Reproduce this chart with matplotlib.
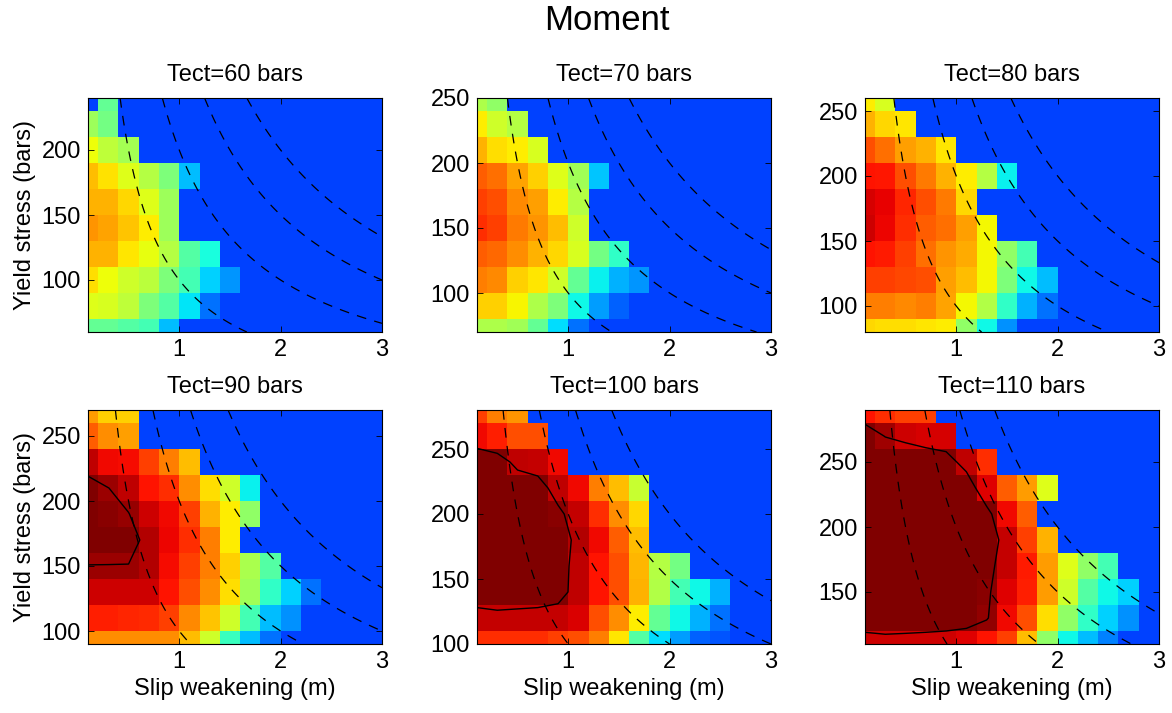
import numpy as np
import matplotlib.pyplot as plt
from matplotlib.ticker import MultipleLocator

plt.rcParams['font.family'] = ['Liberation Sans', 'DejaVu Sans']
plt.rcParams['lines.scale_dashes'] = False
plt.rcParams['lines.dashed_pattern'] = (7, 6)

# slip weakening cell centres (m)
slip = [0.1, 0.3, 0.5, 0.7, 0.9, 1.1, 1.3, 1.5, 1.7, 1.9, 2.1, 2.3, 2.5, 2.7, 2.9]

tect = [60, 70, 80, 90, 100, 110]

# yield stress cell centres (bars), one list per panel
yield_60 = [60, 80, 100, 120, 140, 160, 180, 200, 220, 240]
yield_70 = [70, 90, 110, 130, 150, 170, 190, 210, 230, 250]
yield_80 = [80, 100, 120, 140, 160, 180, 200, 220, 240, 260]
yield_90 = [90, 110, 130, 150, 170, 190, 210, 230, 250, 270]
yield_100 = [100, 120, 140, 160, 180, 200, 220, 240, 260, 280]
yield_110 = [110, 130, 150, 170, 190, 210, 230, 250, 270, 290]

# normalised moment (colour scale 0..1, >1 saturates), rows listed from
# the highest yield stress down; B = runs that did not rupture
B = 0.19
moment_60 = [
    [B, .47, B, B, B, B, B, B, B, B, B, B, B, B, B],
    [.54, .49, B, B, B, B, B, B, B, B, B, B, B, B, B],
    [.64, .58, .55, B, B, B, B, B, B, B, B, B, B, B, B],
    [.71, .67, .62, .57, .50, .31, B, B, B, B, B, B, B, B, B],
    [.72, .72, .68, .62, .54, B, B, B, B, B, B, B, B, B, B],
    [.75, .735, .70, .66, .54, B, B, B, B, B, B, B, B, B, B],
    [.72, .72, .665, .63, .57, .45, .38, B, B, B, B, B, B, B, B],
    [.675, .64, .60, .575, .50, .43, .33, .27, B, B, B, B, B, B, B],
    [.62, .61, .58, .50, .45, .35, .235, B, B, B, B, B, B, B, B],
    [.47, .47, .45, .43, .31, B, B, B, B, B, B, B, B, B, B],
]
moment_70 = [
    [.56, .525, B, B, B, B, B, B, B, B, B, B, B, B, B],
    [.66, .60, .57, B, B, B, B, B, B, B, B, B, B, B, B],
    [.72, .675, .66, .61, B, B, B, B, B, B, B, B, B, B, B],
    [.81, .79, .735, .69, .62, .545, .32, B, B, B, B, B, B, B, B],
    [.84, .825, .765, .74, .66, .57, B, B, B, B, B, B, B, B, B],
    [.86, .84, .78, .75, .71, .60, B, B, B, B, B, B, B, B, B],
    [.81, .80, .76, .72, .68, .61, .49, .41, B, B, B, B, B, B, B],
    [.775, .765, .69, .665, .60, .47, .36, .30, .27, B, B, B, B, B, B],
    [.69, .69, .65, .56, .50, .37, .28, .22, B, B, B, B, B, B, B],
    [.56, .56, .545, .47, .34, .235, B, B, B, B, B, B, B, B, B],
]
moment_80 = [
    [.66, .61, B, B, B, B, B, B, B, B, B, B, B, B, B],
    [.72, .68, .665, B, B, B, B, B, B, B, B, B, B, B, B],
    [.825, .79, .74, .72, .665, B, B, B, B, B, B, B, B, B, B],
    [.89, .885, .825, .78, .72, .66, .57, .36, B, B, B, B, B, B, B],
    [.925, .91, .87, .825, .78, .68, B, B, B, B, B, B, B, B, B],
    [.93, .905, .86, .81, .79, .74, .645, B, B, B, B, B, B, B, B],
    [.89, .88, .84, .79, .75, .73, .645, .525, .43, B, B, B, B, B, B],
    [.84, .84, .835, .825, .74, .71, .645, .50, .37, .31, B, B, B, B, B],
    [.775, .775, .765, .775, .735, .645, .565, .41, .30, .235, B, B, B, B, B],
    [.68, .675, .675, .665, .66, .525, .37, .266, B, B, B, B, B, B, B],
]
moment_90 = [
    [.745, .69, .69, B, B, B, B, B, B, B, B, B, B, B, B],
    [.81, .76, .74, B, B, B, B, B, B, B, B, B, B, B, B],
    [.945, .90, .895, .84, .775, .71, B, B, B, B, B, B, B, B, B],
    [1.0, .976, .945, .89, .86, .76, .675, .60, .36, B, B, B, B, B, B],
    [1.02, .99, .977, .93, .90, .84, .72, .66, .525, B, B, B, B, B, B],
    [1.02, 1.01, 1.0, .955, .905, .86, .775, .66, B, B, B, B, B, B, B],
    [.973, .973, .973, .955, .895, .84, .775, .69, .555, .45, B, B, B, B, B],
    [.93, .93, .93, .93, .89, .825, .76, .675, .545, .41, .33, .235, B, B, B],
    [.875, .875, .87, .865, .84, .765, .70, .60, .43, .31, .266, B, B, B, B],
    [.76, .76, .76, .76, .76, .71, .60, .42, .31, .235, B, B, B, B, B],
]
moment_100 = [
    [.84, .775, .75, B, B, B, B, B, B, B, B, B, B, B, B],
    [.90, .875, .825, .825, B, B, B, B, B, B, B, B, B, B, B],
    [1.058, 1.025, .945, .94, .90, B, B, B, B, B, B, B, B, B, B],
    [1.08, 1.06, 1.042, 1.005, .945, .90, .775, .71, .59, B, B, B, B, B, B],
    [1.1, 1.1, 1.08, 1.04, .99, .94, .86, .76, .68, B, B, B, B, B, B],
    [1.1, 1.1, 1.1, 1.06, 1.012, .955, .90, .81, .71, B, B, B, B, B, B],
    [1.1, 1.1, 1.1, 1.06, 1.01, .945, .89, .825, .715, .57, .49, B, B, B, B],
    [1.0275, 1.057, 1.04, 1.0275, 1.0036, .945, .89, .825, .72, .565, .43, .37, .30, B, B],
    [.94, .94, .94, .94, .94, .92, .825, .76, .66, .47, .37, .30, .235, B, B],
    [.86, .86, .86, .86, .84, .825, .775, .665, .45, .34, .28, .22, .21, B, B],
]
moment_110 = [
    [.89, .86, .84, .84, B, B, B, B, B, B, B, B, B, B, B],
    [1.045, .97, .93, .925, .925, B, B, B, B, B, B, B, B, B, B],
    [1.1, 1.1, 1.103, 1.036, 1.008, .945, .86, B, B, B, B, B, B, B, B],
    [1.1, 1.1, 1.1, 1.1, 1.06, 1.025, .915, .81, .745, .62, B, B, B, B, B],
    [1.1, 1.1, 1.1, 1.1, 1.1, 1.06, 1.0, .90, .81, B, B, B, B, B, B],
    [1.1, 1.1, 1.1, 1.1, 1.1, 1.06, 1.0275, .94, .84, .72, B, B, B, B, B],
    [1.1, 1.1, 1.1, 1.1, 1.1, 1.06, .998, .94, .88, .745, .62, .525, .43, B, B],
    [1.1, 1.1, 1.1, 1.1, 1.1, 1.06, .99, .915, .875, .745, .60, .45, .37, .33, B],
    [1.03, 1.05, 1.04, 1.03, 1.02, 1.015, .982, .90, .825, .675, .525, .41, .33, .266, B],
    [.93, .93, .93, .93, .93, .915, .89, .84, .71, .525, .37, .31, .25, B, B],
]

observed_level = 0.975              # solid contour
energy_levels = [100, 200, 300, 400]  # dashed contours of slip * yield

yields = [yield_60, yield_70, yield_80, yield_90, yield_100, yield_110]
moments = [moment_60, moment_70, moment_80, moment_90, moment_100, moment_110]

fig = plt.figure(figsize=(11.72, 7.13), dpi=100)
fig.text(607 / 1172, 1 - 20 / 713, 'Moment', ha='center', va='center', fontsize=25)

lefts = [88, 477, 865]
bottoms = [332, 644]
W, H = 294, 234

for i in range(6):
    r, c = divmod(i, 3)
    ax = fig.add_axes([lefts[c] / 1172, 1 - bottoms[r] / 713, W / 1172, H / 713])
    yld = yields[i]
    Z = np.array(moments[i])[::-1]

    ax.pcolormesh(slip, yld, Z, shading='nearest', cmap='jet', vmin=0, vmax=1)

    xx, yy = np.meshgrid(np.linspace(0.1, 3.0, 300), np.linspace(yld[0], yld[-1], 300))
    ax.contour(xx, yy, xx * yy, levels=energy_levels, colors='k',
               linewidths=0.9, linestyles='dashed')
    if Z.max() > observed_level:
        ax.contour(slip, yld, Z, levels=[observed_level], colors='k', linewidths=1.0)

    ax.set_xlim(0.1, 3.0)
    ax.set_ylim(yld[0], yld[-1])
    ax.set_xticks([1, 2, 3])
    ax.yaxis.set_major_locator(MultipleLocator(50))
    ax.tick_params(direction='in', top=True, right=True, length=4, width=0.6,
                   labelsize=17, pad=5)
    for s in ax.spines.values():
        s.set_linewidth(0.8)
    ax.set_title(f'Tect={tect[i]} bars', fontsize=17, pad=12)
    if c == 0:
        ax.set_ylabel('Yield stress (bars)', fontsize=17)
    if r == 1:
        ax.set_xlabel('Slip weakening (m)', fontsize=17)

fig.savefig('out.png', dpi=100)
